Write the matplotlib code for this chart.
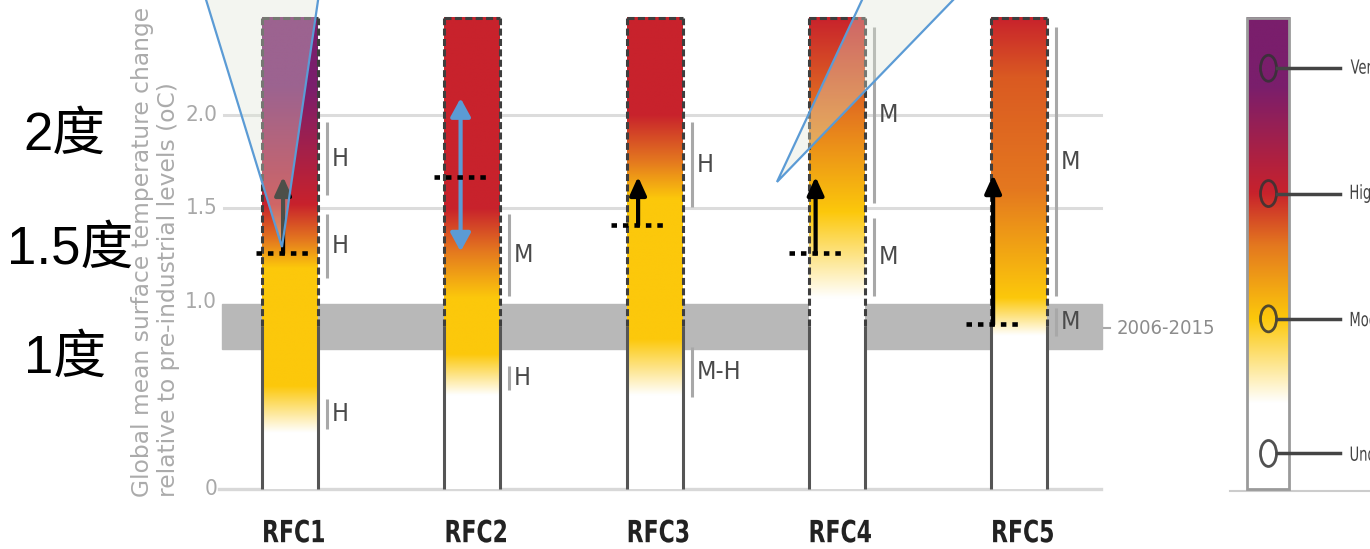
import numpy as np
import matplotlib
matplotlib.use("Agg")
import matplotlib.pyplot as plt
from matplotlib.colors import to_rgb
from matplotlib.patches import Polygon, Ellipse, Rectangle, PathPatch
from matplotlib.font_manager import FontProperties
from matplotlib.textpath import TextPath
from matplotlib.transforms import Affine2D, ScaledTranslation
from matplotlib import font_manager

# ---------------- data ----------------
rfc_labels = ["RFC1", "RFC2", "RFC3", "RFC4", "RFC5"]
bar_top = 2.52

risk_palette = {
    "white": "#FFFFFF",
    "yellow": "#FCC80B",
    "orange": "#E4781F",
    "deep_orange": "#DA5A22",
    "red": "#C8222C",
    "purple": "#7A1E6C",
}

# colour stops of each ember: warming level -> risk colour
rfc1_levels = [0.30, 0.55, 1.18, 1.33, 1.52, 2.15, 2.52]
rfc1_colors = ["white", "yellow", "yellow", "orange", "red", "purple", "purple"]
rfc2_levels = [0.50, 0.72, 1.02, 1.27, 1.50, 2.52]
rfc2_colors = ["white", "yellow", "yellow", "orange", "red", "red"]
rfc3_levels = [0.50, 0.80, 1.55, 1.75, 2.00, 2.52]
rfc3_colors = ["white", "yellow", "yellow", "orange", "red", "red"]
rfc4_levels = [1.02, 1.48, 1.99, 2.52]
rfc4_colors = ["white", "yellow", "orange", "red"]
rfc5_levels = [0.82, 1.02, 1.60, 2.20, 2.52]
rfc5_colors = ["white", "yellow", "orange", "deep_orange", "red"]

# confidence brackets: (low, high, label)
rfc1_conf = [(1.57, 1.96, "H"), (1.13, 1.47, "H"), (0.32, 0.48, "H")]
rfc2_conf = [(1.03, 1.47, "M"), (0.53, 0.66, "H")]
rfc3_conf = [(1.51, 1.96, "H"), (0.49, 0.76, "M-H")]
rfc4_conf = [(1.53, 2.47, "M"), (1.03, 1.45, "M")]
rfc5_conf = [(1.03, 2.47, "M"), (0.82, 0.97, "M")]

# dotted starting level and arrow end per RFC (RFC2 carries a range arrow)
start_levels = [1.26, 1.67, 1.41, 1.26, 0.88]
arrow_tops = [1.67, None, 1.67, 1.67, 1.68]
rfc2_range = (1.27, 2.09)

observed_band = (0.75, 0.99)
observed_label = "2006-2015"

ytick_values = [0, 1.0, 1.5, 2.0]
ytick_labels = ["0", "1.0", "1.5", "2.0"]
grid_levels = [1.5, 2.0]
ylabel_lines = ["Global mean surface temperature change",
                "relative to pre-industrial levels (oC)"]

legend_levels = [0.46, 0.91, 1.30, 1.58, 2.15, 2.52]
legend_colors = ["white", "yellow", "orange", "red", "purple", "purple"]
legend_marks = [2.25, 1.58, 0.91, 0.19]
legend_names = ["Very high", "High", "Moderate", "Undetectable"]

cn_labels = ["2度", "1.5度", "1度"]


# ---------------- fonts ----------------
def condensed_font(bold):
    """Return a narrow sans-serif font file if one is installed."""
    best = None
    for f in font_manager.fontManager.ttflist:
        key = (f.name + " " + f.fname).lower()
        narrow_face = ("narrow" in key or "condensed" in key
                       or str(f.stretch) in ("condensed", "semi-condensed")
                       or (isinstance(f.stretch, int) and f.stretch < 500))
        if not narrow_face or "oblique" in key or "italic" in key or str(f.style) != "normal":
            continue
        w = f.weight if isinstance(f.weight, int) else (700 if "bold" in str(f.weight) else 400)
        if (w >= 600) != bold:
            continue
        rank = 0 if "liberation" in key else (1 if "dejavu" in key else 2)
        if best is None or rank < best[0]:
            best = (rank, f.fname)
    return best[1] if best else None


_reg = condensed_font(False)
_bold = condensed_font(True)


def narrow_fp(size, bold=False):
    path = _bold if bold else _reg
    if path:
        return FontProperties(fname=path, size=size)
    return FontProperties(family="DejaVu Sans", size=size,
                          weight="bold" if bold else "normal", stretch="condensed")


def ember_image(levels, colors, n=700):
    y = np.linspace(0, bar_top, n)
    rgb = np.array([to_rgb(risk_palette[c]) for c in colors])
    img = np.stack([np.interp(y, levels, rgb[:, k]) for k in range(3)], axis=-1)
    return img[:, None, :]


XS = 182.25   # pixels per category step
YS = 187.0    # pixels per degree
fig = plt.figure(figsize=(13.7, 5.49), dpi=100)
ax = fig.add_axes([0, 0, 1, 1])
ax.axis("off")
ax.set_xlim(-290 / XS, 1080 / XS)
ax.set_ylim(-60 / YS, 489 / YS)


def squeezed_text(x, y, s, fp, sx, color, ha="center"):
    """Text drawn as a path, horizontally compressed by sx, anchored at (x, y)."""
    tp = TextPath((0, 0), s, prop=fp)
    bb = tp.get_extents()
    x_ref = (bb.x0 + bb.x1) / 2 if ha == "center" else bb.x0
    tr = (Affine2D().translate(-x_ref, -(bb.y0 + bb.y1) / 2)
          .scale(sx / 72.0, 1 / 72.0)
          + fig.dpi_scale_trans
          + ScaledTranslation(x, y, ax.transData))
    ax.add_patch(PathPatch(tp, transform=tr, facecolor=color, edgecolor="none",
                           clip_on=False, zorder=5))


xs = np.arange(len(rfc_labels))
hw = 28 / XS
all_levels = [rfc1_levels, rfc2_levels, rfc3_levels, rfc4_levels, rfc5_levels]
all_colors = [rfc1_colors, rfc2_colors, rfc3_colors, rfc4_colors, rfc5_colors]
all_conf = [rfc1_conf, rfc2_conf, rfc3_conf, rfc4_conf, rfc5_conf]

# grid, baseline and observed band
x_left, x_right = -0.36, 4.45
for g in grid_levels:
    ax.plot([x_left, x_right], [g, g], color="#DCDCDC", lw=2.2, zorder=0.5)
ax.plot([x_left - 0.03, x_right], [0, 0], color="#D8D8D8", lw=2.4, zorder=0.5)
ax.add_patch(Rectangle((x_left - 0.015, observed_band[0]), x_right - x_left + 0.02,
                       observed_band[1] - observed_band[0], color="#B8B8B8", zorder=1))
band_mid = np.mean(observed_band)
ax.plot([x_right + 0.018, x_right + 0.05], [band_mid - 0.01] * 2, color="#A8A8A8", lw=1.5)
ax.text(x_right + 0.085, band_mid - 0.01, observed_label, ha="left", va="center",
        color="#8C8C8C", fontproperties=narrow_fp(14.5))

# y tick labels and axis title
for v, t in zip(ytick_values, ytick_labels):
    ax.text(-0.40, v, t, ha="right", va="center", color="#A8A8A8",
            fontproperties=narrow_fp(16))
for i, line in enumerate(ylabel_lines):
    ax.text(-0.807 + i * 0.138, -0.045, line, rotation=90, rotation_mode="anchor",
            ha="left", va="center", fontsize=16.8, color="#ABABAB")

# embers
for x, lv, cl, conf, lab in zip(xs, all_levels, all_colors, all_conf, rfc_labels):
    ax.imshow(ember_image(lv, cl), extent=(x - hw, x + hw, 0, bar_top), origin="lower",
              aspect="auto", interpolation="bilinear", zorder=2)
    for ex in (x - hw, x + hw):
        ax.plot([ex, ex], [0, 0.87], color="#555555", lw=2.2, solid_capstyle="butt", zorder=3)
        ax.plot([ex, ex], [0.87, bar_top], color="#3E3E3E", lw=2.2,
                linestyle=(0, (2.3, 1.1)), dash_capstyle="butt", zorder=3)
    ax.plot([x - hw, x + hw], [bar_top, bar_top], color="#3E3E3E", lw=2.2,
            linestyle=(0, (2.3, 1.1)), dash_capstyle="butt", zorder=3)
    cx = x + hw + 9 / XS
    for lo, hi, txt in conf:
        ax.plot([cx, cx], [lo, hi], color="#A8A8A8", lw=2.2, solid_capstyle="butt", zorder=3)
        ax.text(cx + 5 / XS, (lo + hi) / 2, txt, ha="left", va="center",
                color="#4A4A4A", fontproperties=narrow_fp(18), zorder=3)
    squeezed_text(x + 4 / XS, -0.225, lab, narrow_fp(22, bold=True), 0.8, "#222222")

# dotted starting levels and arrows
ann_x = xs * 0.974 - 0.038
for i, (ax_x, lvl, top) in enumerate(zip(ann_x, start_levels, arrow_tops)):
    ax.plot([ax_x - 27 / XS, ax_x + 29 / XS], [lvl, lvl], color="black", lw=3.3,
            linestyle=(0, (1.2, 1.3)), dash_capstyle="butt", zorder=6)
    if top is not None:
        ax.annotate("", xy=(ax_x, top), xytext=(ax_x, lvl), zorder=5,
                    arrowprops=dict(arrowstyle="-|>,head_length=0.55,head_width=0.25",
                                    color="black", lw=3, mutation_scale=20,
                                    shrinkA=0, shrinkB=0))
ax.annotate("", xy=(ann_x[1], rfc2_range[1]), xytext=(ann_x[1], rfc2_range[0]), zorder=5,
            arrowprops=dict(arrowstyle="<|-|>,head_length=0.55,head_width=0.3",
                            color="#5B9BD5", lw=3, mutation_scale=20, shrinkA=0, shrinkB=0))

# callout wedges
wedge_face = (221 / 255, 229 / 255, 212 / 255, 0.35)
for pts in ([(-0.044, 1.294), (-0.477, 2.668), (0.162, 2.668)],
            [(2.672, 1.642), (3.164, 2.668), (3.691, 2.668)]):
    ax.add_patch(Polygon(pts, closed=True, facecolor=wedge_face, edgecolor="#5B9BD5",
                         lw=1.6, zorder=8, clip_on=False))

# Chinese level labels
for (cx_, cy_), t in zip([(-1.240, 1.813), (-1.207, 1.203), (-1.235, 0.620)], cn_labels):
    ax.text(cx_, cy_, t, ha="center", va="baseline", fontsize=38, color="black",
            family=["Liberation Sans", "Noto Sans CJK SC"], zorder=9)

# risk legend
lx0, lx1 = 5.251, 5.482
ax.imshow(ember_image(legend_levels, legend_colors), extent=(lx0, lx1, 0, bar_top),
          origin="lower", aspect="auto", interpolation="bilinear", zorder=2)
ax.add_patch(Rectangle((lx0, 0), lx1 - lx0, bar_top, fill=False, edgecolor="#9A9A9A",
                       lw=2, zorder=3))
for m, name in zip(legend_marks, legend_names):
    ax.add_patch(Ellipse((5.369, m), 16 / XS, 26 / YS, fill=False, edgecolor="#333333",
                         lw=2, alpha=0.85, zorder=4))
    ax.plot([5.416, 5.761], [m, m], color="#444444", lw=2.5, zorder=4)
    squeezed_text(5.82, m, name, narrow_fp(14), 0.75, "#444444", ha="left")
ax.plot([5.158, 5.95], [-0.01, -0.01], color="#CCCCCC", lw=1.5)

ax.set_xlim(-290 / XS, 1080 / XS)
ax.set_ylim(-60 / YS, 489 / YS)
fig.savefig("out.png", dpi=100)
